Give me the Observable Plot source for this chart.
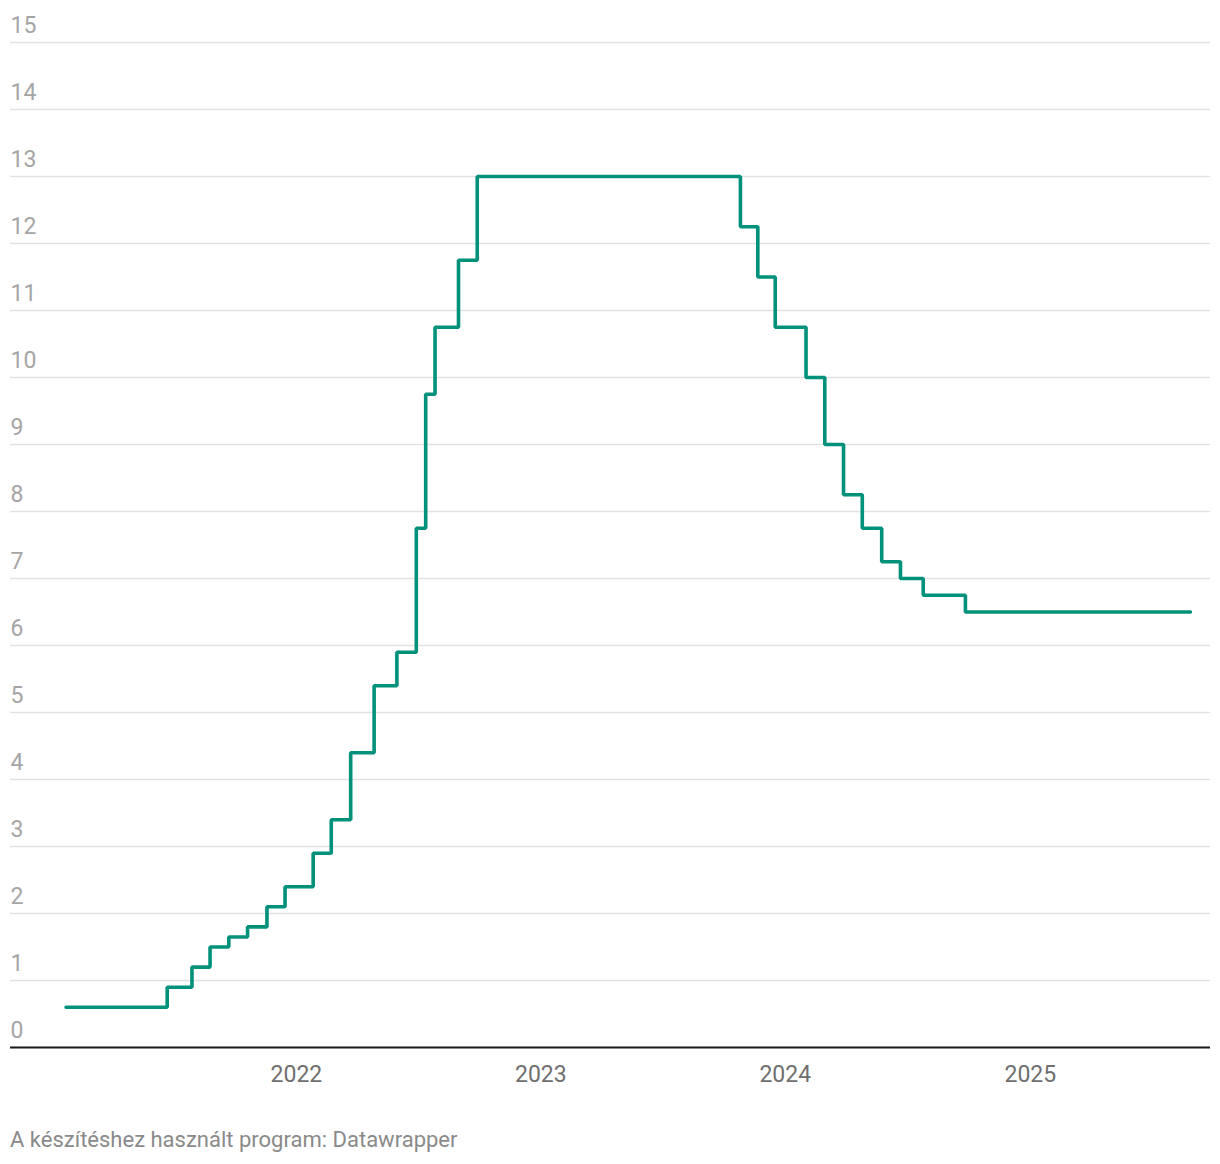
<!DOCTYPE html>
<html>
<head>
<meta charset="utf-8">
<script src="https://cdn.jsdelivr.net/npm/d3@7"></script>
<script src="https://cdn.jsdelivr.net/npm/@observablehq/plot@0.6"></script>
<style>
  html, body { margin: 0; padding: 0; background: #fff; }
  body { width: 1220px; font-family: Roboto, "Noto Sans", sans-serif; }
  #caption { margin: 27px 0 0 10px; font-size: 22px; color: #8a8a8a; font-family: Roboto, sans-serif; line-height: 26px; }
</style>
</head>
<body>
<div id="chart"></div>
<div id="caption">A készítéshez használt program: Datawrapper</div>
<script>
// Dates of each rate change (step starts) and the rate from that date on
const dates = [
  "2021-01-22", "2021-06-22", "2021-07-29", "2021-08-25", "2021-09-22", "2021-10-20",
  "2021-11-18", "2021-12-15", "2022-01-26", "2022-02-22", "2022-03-23", "2022-04-27",
  "2022-05-31", "2022-06-29", "2022-07-13", "2022-07-27", "2022-08-31", "2022-09-28",
  "2023-10-26", "2023-11-21", "2023-12-17", "2024-02-01", "2024-02-29", "2024-03-28",
  "2024-04-25", "2024-05-24", "2024-06-21", "2024-07-25", "2024-09-26", "2025-08-28"
];
const rates = [
  0.6, 0.9, 1.2, 1.5, 1.65, 1.8,
  2.1, 2.4, 2.9, 3.4, 4.4, 5.4,
  5.9, 7.75, 9.75, 10.75, 11.75, 13,
  12.25, 11.5, 10.75, 10, 9, 8.25,
  7.75, 7.25, 7, 6.75, 6.5, 6.5
];
const yTicks = [0, 1, 2, 3, 4, 5, 6, 7, 8, 9, 10, 11, 12, 13, 14, 15];
const xTickYears = [2022, 2023, 2024, 2025];

const data = dates.map((d, i) => ({date: new Date(d + "T00:00:00Z"), rate: rates[i]}));
const xTicks = xTickYears.map(y => new Date(Date.UTC(y, 0, 1)));

const chart = Plot.plot({
  width: 1220,
  height: 1100,
  marginLeft: 10,
  marginRight: 10,
  marginTop: 42,
  marginBottom: 53,
  style: {fontFamily: "Roboto, sans-serif", background: "#fff"},
  x: {type: "utc", domain: [new Date("2020-10-31T00:00:00Z"), new Date("2025-09-27T00:00:00Z")]},
  y: {domain: [0, 15]},
  marks: [
    Plot.gridY(yTicks, {stroke: "#e2e2e2", strokeOpacity: 1, strokeWidth: 1.6}),
    Plot.axisY(yTicks, {
      anchor: "left", tickSize: 0, tickPadding: 0, textAnchor: "start",
      lineAnchor: "bottom", dy: -10, fontSize: 23, fill: "#a5a5a5", label: null,
      tickFormat: d => String(d)
    }),
    Plot.ruleY([0], {stroke: "#1a1a1a", strokeWidth: 2}),
    Plot.axisX(xTicks, {
      tickSize: 0, tickPadding: 18, fontSize: 23, fill: "#6f6f6f",
      tickFormat: d3.utcFormat("%Y"), label: null
    }),
    Plot.line(data, {
      x: "date", y: "rate", curve: "step-after",
      stroke: "#00917a", strokeWidth: 3.6, strokeLinejoin: "miter", strokeLinecap: "round"
    })
  ]
});
document.getElementById("chart").appendChild(chart);
</script>
</body>
</html>
